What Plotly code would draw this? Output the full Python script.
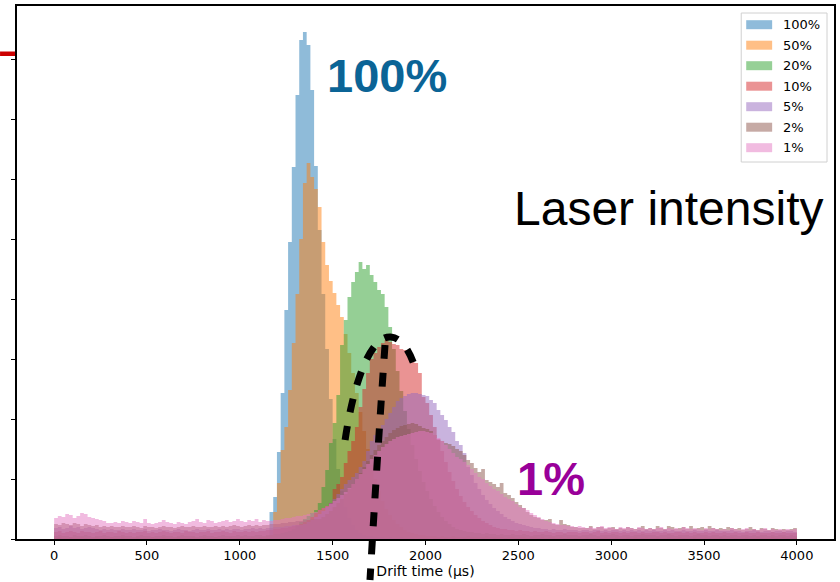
import plotly.graph_objects as go

# Histogram binning: 200 bins of 20 us between 0 and 4000 us
BIN_WIDTH = 20
N_BINS = 200
bin_edges = [i * BIN_WIDTH for i in range(N_BINS + 1)]

# Bin contents per laser intensity (counts per bin)
counts_100 = [
    0, 1, 0, 0, 1, 0, 0, 0, 1, 0, 0, 0, 0, 1, 0, 0, 0, 0, 1, 0,
    0, 0, 1, 0, 0, 0, 0, 1, 0, 0, 0, 0, 0, 1, 0, 0, 1, 0, 0, 0,
    0, 1, 0, 0, 0, 1, 0, 0, 0, 1, 0, 0, 1, 0, 0, 1, 0, 1, 27, 42,
    87, 146, 229, 297, 372, 444, 499, 507, 494, 449, 373, 309, 245, 190, 140, 100, 70, 48, 32, 21,
    14, 9, 6, 4, 3, 3, 2, 2, 2, 1, 2, 1, 1, 2, 1, 1, 1, 0, 1, 1,
    1, 0, 1, 1, 0, 1, 0, 1, 0, 0, 1, 0, 1, 0, 0, 1, 0, 0, 1, 0,
    0, 1, 0, 0, 1, 0, 0, 0, 1, 0, 1, 0, 0, 0, 1, 0, 0, 1, 0, 0,
    1, 0, 0, 1, 0, 0, 0, 1, 0, 0, 0, 1, 0, 0, 1, 0, 0, 0, 1, 0,
    0, 0, 1, 0, 0, 1, 0, 0, 0, 1, 0, 0, 1, 0, 0, 0, 1, 0, 0, 1,
    0, 0, 0, 1, 0, 0, 1, 0, 0, 0, 1, 0, 0, 0, 1, 0, 0, 1, 0, 0,
]
counts_50 = [
    1, 2, 1, 1, 2, 1, 1, 2, 1, 1, 1, 2, 1, 1, 1, 2, 1, 1, 2, 1,
    1, 1, 2, 1, 1, 1, 2, 1, 1, 2, 1, 1, 1, 2, 1, 1, 1, 2, 1, 1,
    2, 1, 1, 2, 1, 1, 1, 2, 1, 1, 2, 1, 1, 2, 1, 2, 2, 3, 4, 27,
    56, 89, 112, 149, 196, 245, 300, 356, 376, 362, 350, 332, 297, 274, 258, 246, 234, 222, 205, 186,
    166, 146, 127, 108, 90, 74, 60, 48, 38, 30, 24, 19, 15, 12, 9, 7, 6, 5, 4, 4,
    3, 3, 3, 2, 3, 2, 2, 3, 2, 2, 2, 3, 2, 2, 2, 2, 3, 2, 2, 2,
    2, 1, 2, 2, 1, 2, 2, 1, 2, 2, 1, 2, 1, 2, 2, 1, 2, 1, 2, 1,
    1, 2, 1, 2, 1, 1, 2, 1, 2, 1, 1, 2, 1, 1, 2, 1, 2, 1, 1, 2,
    1, 1, 2, 1, 1, 2, 1, 1, 2, 1, 1, 1, 2, 1, 1, 2, 1, 1, 1, 2,
    1, 1, 2, 1, 1, 1, 2, 1, 1, 2, 1, 1, 1, 2, 1, 1, 2, 1, 1, 1,
]
counts_20 = [
    3, 4, 3, 3, 2, 4, 3, 3, 4, 3, 2, 3, 3, 4, 3, 2, 3, 3, 4, 3,
    3, 2, 3, 4, 3, 3, 2, 3, 3, 4, 3, 3, 2, 3, 4, 3, 3, 3, 2, 3,
    4, 3, 3, 2, 3, 4, 3, 3, 3, 4, 3, 4, 3, 3, 4, 4, 3, 4, 4, 5,
    5, 6, 7, 8, 10, 13, 17, 20, 23, 26, 29, 36, 52, 69, 96, 116, 144, 194, 219, 242,
    257, 267, 277, 270, 274, 264, 257, 249, 245, 232, 212, 190, 168, 148, 128, 110, 94, 80, 68, 57,
    48, 40, 33, 27, 22, 18, 15, 12, 10, 9, 8, 7, 7, 6, 6, 5, 6, 5, 5, 4,
    5, 4, 4, 5, 4, 4, 5, 4, 3, 4, 4, 5, 4, 4, 3, 4, 4, 5, 4, 4,
    4, 3, 4, 4, 5, 4, 3, 4, 4, 4, 5, 4, 3, 4, 4, 3, 4, 4, 5, 4,
    4, 4, 3, 4, 4, 5, 4, 3, 4, 4, 4, 3, 4, 5, 4, 4, 3, 4, 4, 3,
    4, 3, 4, 4, 3, 4, 4, 3, 4, 3, 4, 4, 3, 4, 3, 4, 4, 3, 4, 3,
]
counts_10 = [
    7, 8, 6, 7, 8, 7, 6, 8, 7, 7, 6, 7, 8, 6, 7, 7, 6, 8, 7, 6,
    7, 6, 7, 7, 8, 6, 7, 6, 7, 8, 7, 6, 7, 7, 6, 8, 7, 7, 6, 7,
    7, 8, 6, 7, 7, 8, 7, 6, 8, 7, 7, 8, 7, 8, 7, 8, 8, 9, 9, 10,
    10, 11, 11, 12, 13, 14, 15, 17, 19, 22, 26, 29, 31, 33, 36, 50, 55, 62, 76, 88,
    98, 112, 132, 150, 166, 180, 186, 192, 196, 199, 197, 195, 194, 190, 189, 186, 180, 176, 166, 142,
    136, 124, 112, 100, 88, 77, 67, 58, 50, 43, 37, 32, 28, 24, 21, 18, 16, 14, 12, 11,
    10, 10, 9, 9, 8, 9, 8, 8, 7, 8, 7, 7, 8, 7, 6, 7, 7, 6, 7, 7,
    7, 6, 7, 7, 6, 7, 8, 6, 7, 6, 7, 7, 6, 7, 6, 7, 7, 6, 7, 6,
    6, 7, 7, 6, 7, 6, 6, 7, 7, 6, 7, 6, 7, 6, 6, 7, 6, 7, 6, 6,
    7, 6, 6, 7, 6, 6, 7, 6, 6, 7, 6, 6, 6, 7, 6, 6, 7, 6, 6, 6,
]
counts_5 = [
    11, 12, 10, 11, 13, 11, 12, 10, 11, 12, 11, 10, 9, 10, 9, 10, 9, 9, 10, 9,
    9, 10, 9, 9, 10, 8, 9, 9, 10, 9, 9, 8, 9, 10, 9, 9, 8, 9, 10, 9,
    9, 10, 9, 9, 10, 9, 10, 9, 10, 10, 9, 10, 10, 11, 10, 11, 10, 11, 11, 12,
    12, 12, 13, 13, 14, 14, 14, 15, 17, 19, 22, 25, 28, 32, 36, 40, 45, 50, 55, 59,
    62, 66, 72, 78, 88, 98, 104, 110, 114, 120, 126, 132, 138, 141, 143, 145, 146, 146, 145, 144,
    143, 139, 136, 129, 124, 119, 112, 107, 98, 94, 86, 72, 64, 56, 50, 44, 39, 35, 31, 28,
    25, 22, 20, 18, 16, 15, 14, 13, 12, 11, 11, 10, 10, 9, 10, 9, 9, 10, 9, 9,
    9, 8, 9, 9, 8, 9, 9, 8, 9, 8, 9, 9, 8, 9, 8, 9, 8, 9, 8, 9,
    8, 9, 8, 8, 9, 8, 9, 8, 8, 9, 8, 8, 9, 8, 8, 9, 8, 8, 9, 8,
    8, 8, 9, 8, 8, 7, 8, 8, 9, 8, 7, 8, 8, 7, 8, 8, 7, 8, 8, 7,
]
counts_2 = [
    15, 14, 16, 15, 14, 16, 15, 13, 15, 14, 13, 14, 12, 13, 12, 13, 12, 12, 13, 12,
    12, 13, 12, 11, 13, 12, 12, 11, 12, 13, 12, 12, 11, 12, 13, 12, 12, 13, 12, 12,
    13, 12, 12, 13, 12, 13, 12, 13, 14, 13, 12, 13, 14, 13, 14, 13, 14, 14, 15, 15,
    15, 16, 16, 17, 17, 18, 18, 19, 19, 20, 20, 20, 22, 25, 28, 32, 36, 40, 45, 50,
    55, 60, 66, 72, 78, 84, 89, 94, 98, 102, 106, 109, 111, 113, 114, 115, 116, 115, 113, 111,
    110, 108, 104, 99, 98, 96, 95, 93, 90, 88, 84, 79, 76, 71, 67, 70, 59, 57, 55, 52,
    56, 46, 44, 41, 37, 34, 31, 27, 24, 22, 21, 19, 19, 20, 15, 14, 19, 15, 14, 12,
    12, 11, 11, 11, 13, 10, 12, 12, 10, 11, 12, 10, 11, 10, 12, 11, 10, 11, 13, 10,
    11, 10, 13, 11, 10, 13, 12, 10, 11, 12, 10, 13, 10, 11, 12, 10, 13, 11, 10, 11,
    10, 12, 11, 10, 11, 9, 10, 12, 10, 9, 11, 10, 9, 11, 10, 9, 10, 9, 10, 11,
]
counts_1 = [
    21, 23, 22, 25, 24, 21, 23, 26, 25, 22, 21, 20, 19, 18, 16, 16, 17, 16, 18, 17,
    16, 18, 17, 16, 20, 16, 15, 16, 17, 19, 17, 16, 15, 17, 16, 15, 17, 18, 20, 17,
    16, 19, 18, 16, 17, 18, 19, 17, 18, 20, 18, 17, 19, 18, 20, 17, 19, 18, 18, 19,
    19, 20, 21, 21, 22, 23, 23, 24, 25, 26, 27, 29, 31, 33, 35, 38, 41, 44, 47, 51,
    55, 60, 65, 70, 75, 80, 84, 88, 92, 95, 98, 100, 102, 103, 104, 105, 106, 107, 108, 108,
    107, 106, 104, 101, 98, 94, 90, 86, 82, 80, 77, 74, 70, 66, 62, 60, 56, 53, 50, 48,
    45, 42, 40, 38, 35, 32, 31, 29, 26, 24, 22, 20, 18, 17, 16, 15, 14, 14, 13, 13,
    12, 13, 12, 11, 12, 11, 12, 13, 11, 12, 11, 10, 12, 11, 12, 11, 10, 12, 11, 10,
    11, 10, 11, 12, 10, 11, 10, 11, 10, 12, 11, 10, 11, 10, 9, 11, 10, 11, 10, 9,
    10, 9, 11, 10, 9, 10, 11, 9, 10, 9, 10, 11, 9, 10, 9, 10, 9, 10, 9, 10,
]

labels = ["100%", "50%", "20%", "10%", "5%", "2%", "1%"]
series = [counts_100, counts_50, counts_20, counts_10, counts_5, counts_2, counts_1]
colors = [(31, 119, 180), (255, 127, 14), (44, 160, 44), (214, 39, 40),
          (148, 103, 189), (140, 86, 75), (227, 119, 194)]
ALPHA = 0.5

X_RANGE = [-200, 4200]
Y_RANGE = [0, 533]
x_ticks = [0, 500, 1000, 1500, 2000, 2500, 3000, 3500, 4000]
y_ticks = [0, 60, 120, 180, 240, 300, 360, 420, 480]

W, H = 840, 582
M_L, M_R, M_T, M_B = 17, 4, 6, 43
PW, PH = W - M_L - M_R, H - M_T - M_B


def px_to_paper(px, py):
    """Page pixel position -> paper coordinates."""
    return (px - M_L) / PW, (H - M_B - py) / PH


def data_to_paper(x, y):
    return ((x - X_RANGE[0]) / (X_RANGE[1] - X_RANGE[0]),
            (y - Y_RANGE[0]) / (Y_RANGE[1] - Y_RANGE[0]))


fig = go.Figure()

# Step-filled histograms, drawn from the highest intensity to the lowest
for label, counts, (r, g, b) in zip(labels, series, colors):
    fig.add_trace(go.Scatter(
        x=bin_edges,
        y=counts + [counts[-1]],
        mode="lines",
        line=dict(width=0, shape="hv"),
        fill="tozeroy",
        fillcolor=f"rgba({r},{g},{b},{ALPHA})",
        name=label,
        showlegend=False,
        hoverinfo="skip",
    ))

shapes = []
annotations = []

# Legend box with colour patches
lx0, ly0 = px_to_paper(743, 13)
lx1, ly1 = px_to_paper(829, 162)
shapes.append(dict(type="rect", xref="paper", yref="paper",
                   x0=lx0, x1=lx1, y0=ly1, y1=ly0,
                   line=dict(color="#d0d0d0", width=1), fillcolor="white", layer="above"))
for k, (label, (r, g, b)) in enumerate(zip(labels, colors)):
    cy = 24.7 + 20.5 * k
    px0, py0 = px_to_paper(748, cy - 4.5)
    px1, py1 = px_to_paper(774, cy + 4.5)
    a, c = ALPHA, 1 - ALPHA
    patch = f"rgb({round(r * a + 255 * c)},{round(g * a + 255 * c)},{round(b * a + 255 * c)})"
    shapes.append(dict(type="rect", xref="paper", yref="paper",
                       x0=px0, x1=px1, y0=py1, y1=py0,
                       line=dict(width=0), fillcolor=patch, layer="above"))
    tx, ty = px_to_paper(783, cy)
    annotations.append(dict(text=label, x=tx, y=ty, xref="paper", yref="paper",
                            xanchor="left", yanchor="middle", showarrow=False,
                            font=dict(family="DejaVu Sans", size=13, color="black")))

# Dashed outline around the 10% peak and its drift-time marker
arc = [(1567, 99), (1615, 159), (1707, 204), (1814, 202),
       (1884, 201), (1933, 181), (1954, 164)]
marker = [(1782, 194), (1739, 79), (1701, -41)]


def svg_pt(p):
    x, y = data_to_paper(*p)
    return f"{x:.5f},{y:.5f}"


arc_path = ("M " + svg_pt(arc[0]) + " C " + " ".join(svg_pt(p) for p in arc[1:4])
            + " C " + " ".join(svg_pt(p) for p in arc[4:7]))
marker_path = "M " + svg_pt(marker[0]) + " Q " + " ".join(svg_pt(p) for p in marker[1:3])
for path in (arc_path, marker_path):
    shapes.append(dict(type="path", xref="paper", yref="paper", path=path,
                       line=dict(color="black", width=7, dash="14px,14px"), layer="above"))

# Red tick mark on the left edge
rx0, ry0 = px_to_paper(0, 51.5)
rx1, ry1 = px_to_paper(15, 56)
shapes.append(dict(type="rect", xref="paper", yref="paper",
                   x0=rx0, x1=rx1, y0=ry1, y1=ry0,
                   line=dict(width=0), fillcolor="#cc0000"))

# Large labels
for text, (px, py), size, color, bold in [
    ("100%", (326, 75), 47, "#0b6496", True),
    ("Laser intensity", (513, 208), 48, "black", False),
    ("1%", (516, 478), 47, "#990099", True),
]:
    ax, ay = px_to_paper(px, py)
    annotations.append(dict(text=f"<b>{text}</b>" if bold else text,
                            x=ax, y=ay, xref="paper", yref="paper",
                            xanchor="left", yanchor="middle", showarrow=False,
                            font=dict(family="Liberation Sans", size=size, color=color)))

fig.update_layout(
    width=W, height=H,
    margin=dict(l=M_L, r=M_R, t=M_T, b=M_B),
    paper_bgcolor="white",
    plot_bgcolor="white",
    shapes=shapes,
    annotations=annotations,
    showlegend=False,
    xaxis=dict(
        range=X_RANGE, tickvals=x_ticks, ticktext=[str(v) for v in x_ticks],
        ticks="outside", ticklen=4, tickwidth=1.2, tickcolor="black",
        showline=True, linecolor="black", linewidth=1.5, mirror=True,
        showgrid=False, zeroline=False,
        tickfont=dict(family="DejaVu Sans", size=13, color="black"),
        title=dict(text="Drift time (μs)", standoff=3,
                   font=dict(family="DejaVu Sans", size=14, color="black")),
    ),
    yaxis=dict(
        range=Y_RANGE, tickvals=y_ticks, showticklabels=False,
        ticks="outside", ticklen=4, tickwidth=1.2, tickcolor="black",
        showline=True, linecolor="black", linewidth=1.5, mirror=True,
        showgrid=False, zeroline=False,
    ),
)

fig.write_html("out.html")
